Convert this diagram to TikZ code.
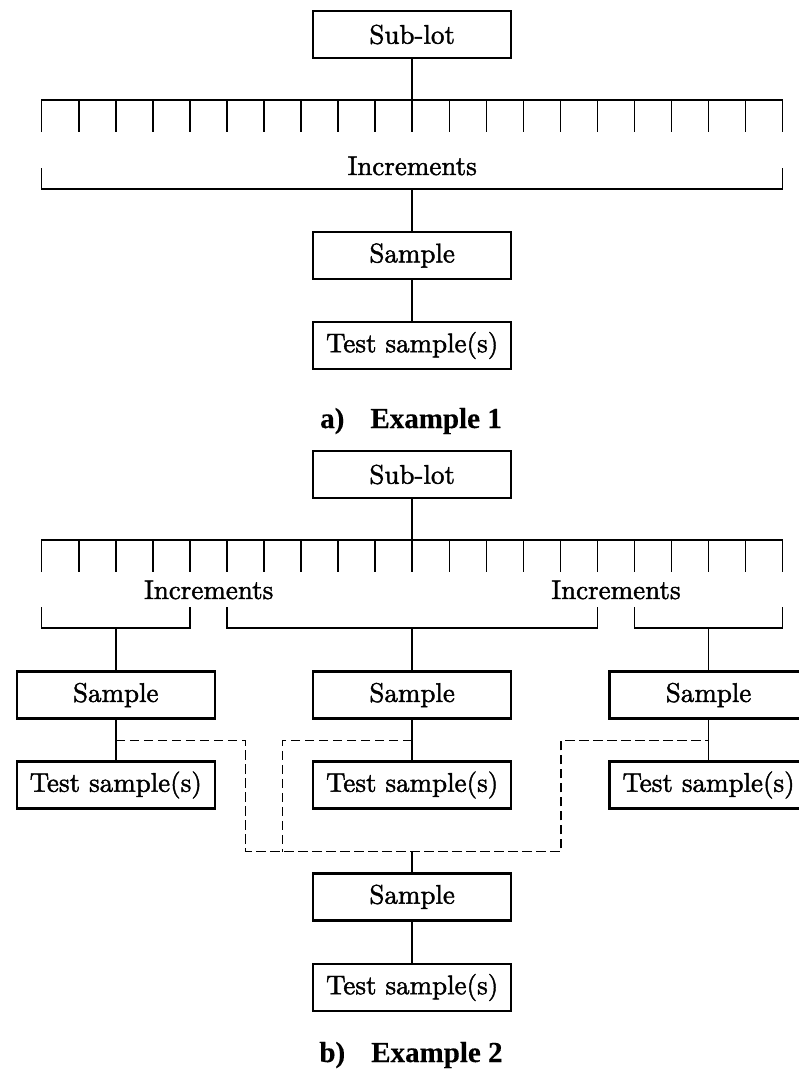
\documentclass[tikz,border=0pt]{standalone}
\usepackage{fontspec}
\setmainfont{lmroman10-regular.otf}[FakeBold=1.6]
\newfontfamily\captfont{Liberation Serif}[FakeBold=0.3]
\begin{document}
\begin{tikzpicture}[x=1pt,y=-1pt,
  box/.style={draw, line width=2.5pt, minimum width=198pt, minimum height=47pt, inner sep=0pt, font=\fontsize{27}{31}\selectfont},
  conn/.style={line width=1.5pt},
  dashline/.style={line width=1.5pt, dash pattern=on 9.5pt off 4.5pt},
  lbl/.style={font=\fontsize{27}{31}\selectfont, inner sep=0pt, anchor=base},
  capt/.style={font=\fontsize{29}{33}\captfont\bfseries, inner sep=0pt, anchor=base}]
\useasboundingbox (0,0) rectangle (799,1071);
% ---------- Example 1 ----------
\node[box] (sublotA) at (412.2,34.5) {Sub-lot};
\coordinate (combA) at (412.2,100);
\draw[conn] (41.7,132) -- (41.7,100) -- (782.7,100) -- (782.7,132);
\foreach \i in {1,...,19} \draw[conn] ({41.7+37.05*\i},100) -- ++(0,32);
\draw[conn] (sublotA.south) -- (combA);
\node[lbl] (incA) at (412.2,175) {Increments};
\draw[conn] (41.7,168) -- (41.7,189) -- (782.7,189) -- (782.7,168);
\coordinate (brA) at (412.2,189);
\node[box] (sampleA) at (412.2,255.5) {Sample};
\draw[conn] (brA) -- (sampleA.north);
\node[box] (testA) at (412.2,345.5) {Test sample(s)};
\draw[conn] (sampleA.south) -- (testA.north);
\node[capt] (capA) at (411,428) {a)\hspace{0.9em}Example 1};
% ---------- Example 2 ----------
\node[box] (sublotB) at (412.2,474.5) {Sub-lot};
\coordinate (combB) at (412.2,540);
\draw[conn] (41.7,572) -- (41.7,540) -- (782.7,540) -- (782.7,572);
\foreach \i in {1,...,19} \draw[conn] ({41.7+37.05*\i},540) -- ++(0,32);
\draw[conn] (sublotB.south) -- (combB);
\node[lbl] (incL) at (208.7,599) {Increments};
\node[lbl] (incR) at (616,599) {Increments};
\draw[conn] (41.7,607) -- (41.7,628) -- (189.9,628) -- (189.9,607);
\draw[conn] (226.95,607) -- (226.95,628) -- (597.45,628) -- (597.45,607);
\draw[conn] (634.5,607) -- (634.5,628) -- (782.7,628) -- (782.7,607);
\coordinate (brL) at (115.8,628);
\coordinate (brM) at (412.2,628);
\coordinate (brR) at (708.6,628);
\node[box] (sampleL) at (115.8,695) {Sample};
\node[box] (sampleM) at (412.2,695) {Sample};
\node[box] (sampleR) at (708.6,695) {Sample};
\node[box] (testL) at (115.8,785) {Test sample(s)};
\node[box] (testM) at (412.2,785) {Test sample(s)};
\node[box] (testR) at (708.6,785) {Test sample(s)};
\draw[conn] (brL) -- (sampleL.north);
\draw[conn] (brM) -- (sampleM.north);
\draw[conn] (brR) -- (sampleR.north);
\draw[conn] (sampleL.south) -- (testL.north);
\draw[conn] (sampleM.south) -- (testM.north);
\draw[conn] (sampleR.south) -- (testR.north);
% dashed combination
\coordinate (dL) at (115.8,740.3);
\coordinate (dM) at (412.2,740.3);
\coordinate (dR) at (708.6,740.3);
\coordinate (dJ) at (412.2,851.7);
\draw[dashline] (dL) -- (245.7,740.3) -- (245.7,851.7) -- (561,851.7) -- (561,740.3) -- (dR);
\draw[dashline] (dM) -- (282.7,740.3) -- (282.7,851.7);
\node[box] (sampleB) at (412.2,896.8) {Sample};
\node[box] (testB) at (412.2,987.5) {Test sample(s)};
\draw[conn] (dJ) -- (sampleB.north);
\draw[conn] (sampleB.south) -- (testB.north);
\node[capt] (capB) at (411,1062) {b)\hspace{0.9em}Example 2};
\end{tikzpicture}
\end{document}
